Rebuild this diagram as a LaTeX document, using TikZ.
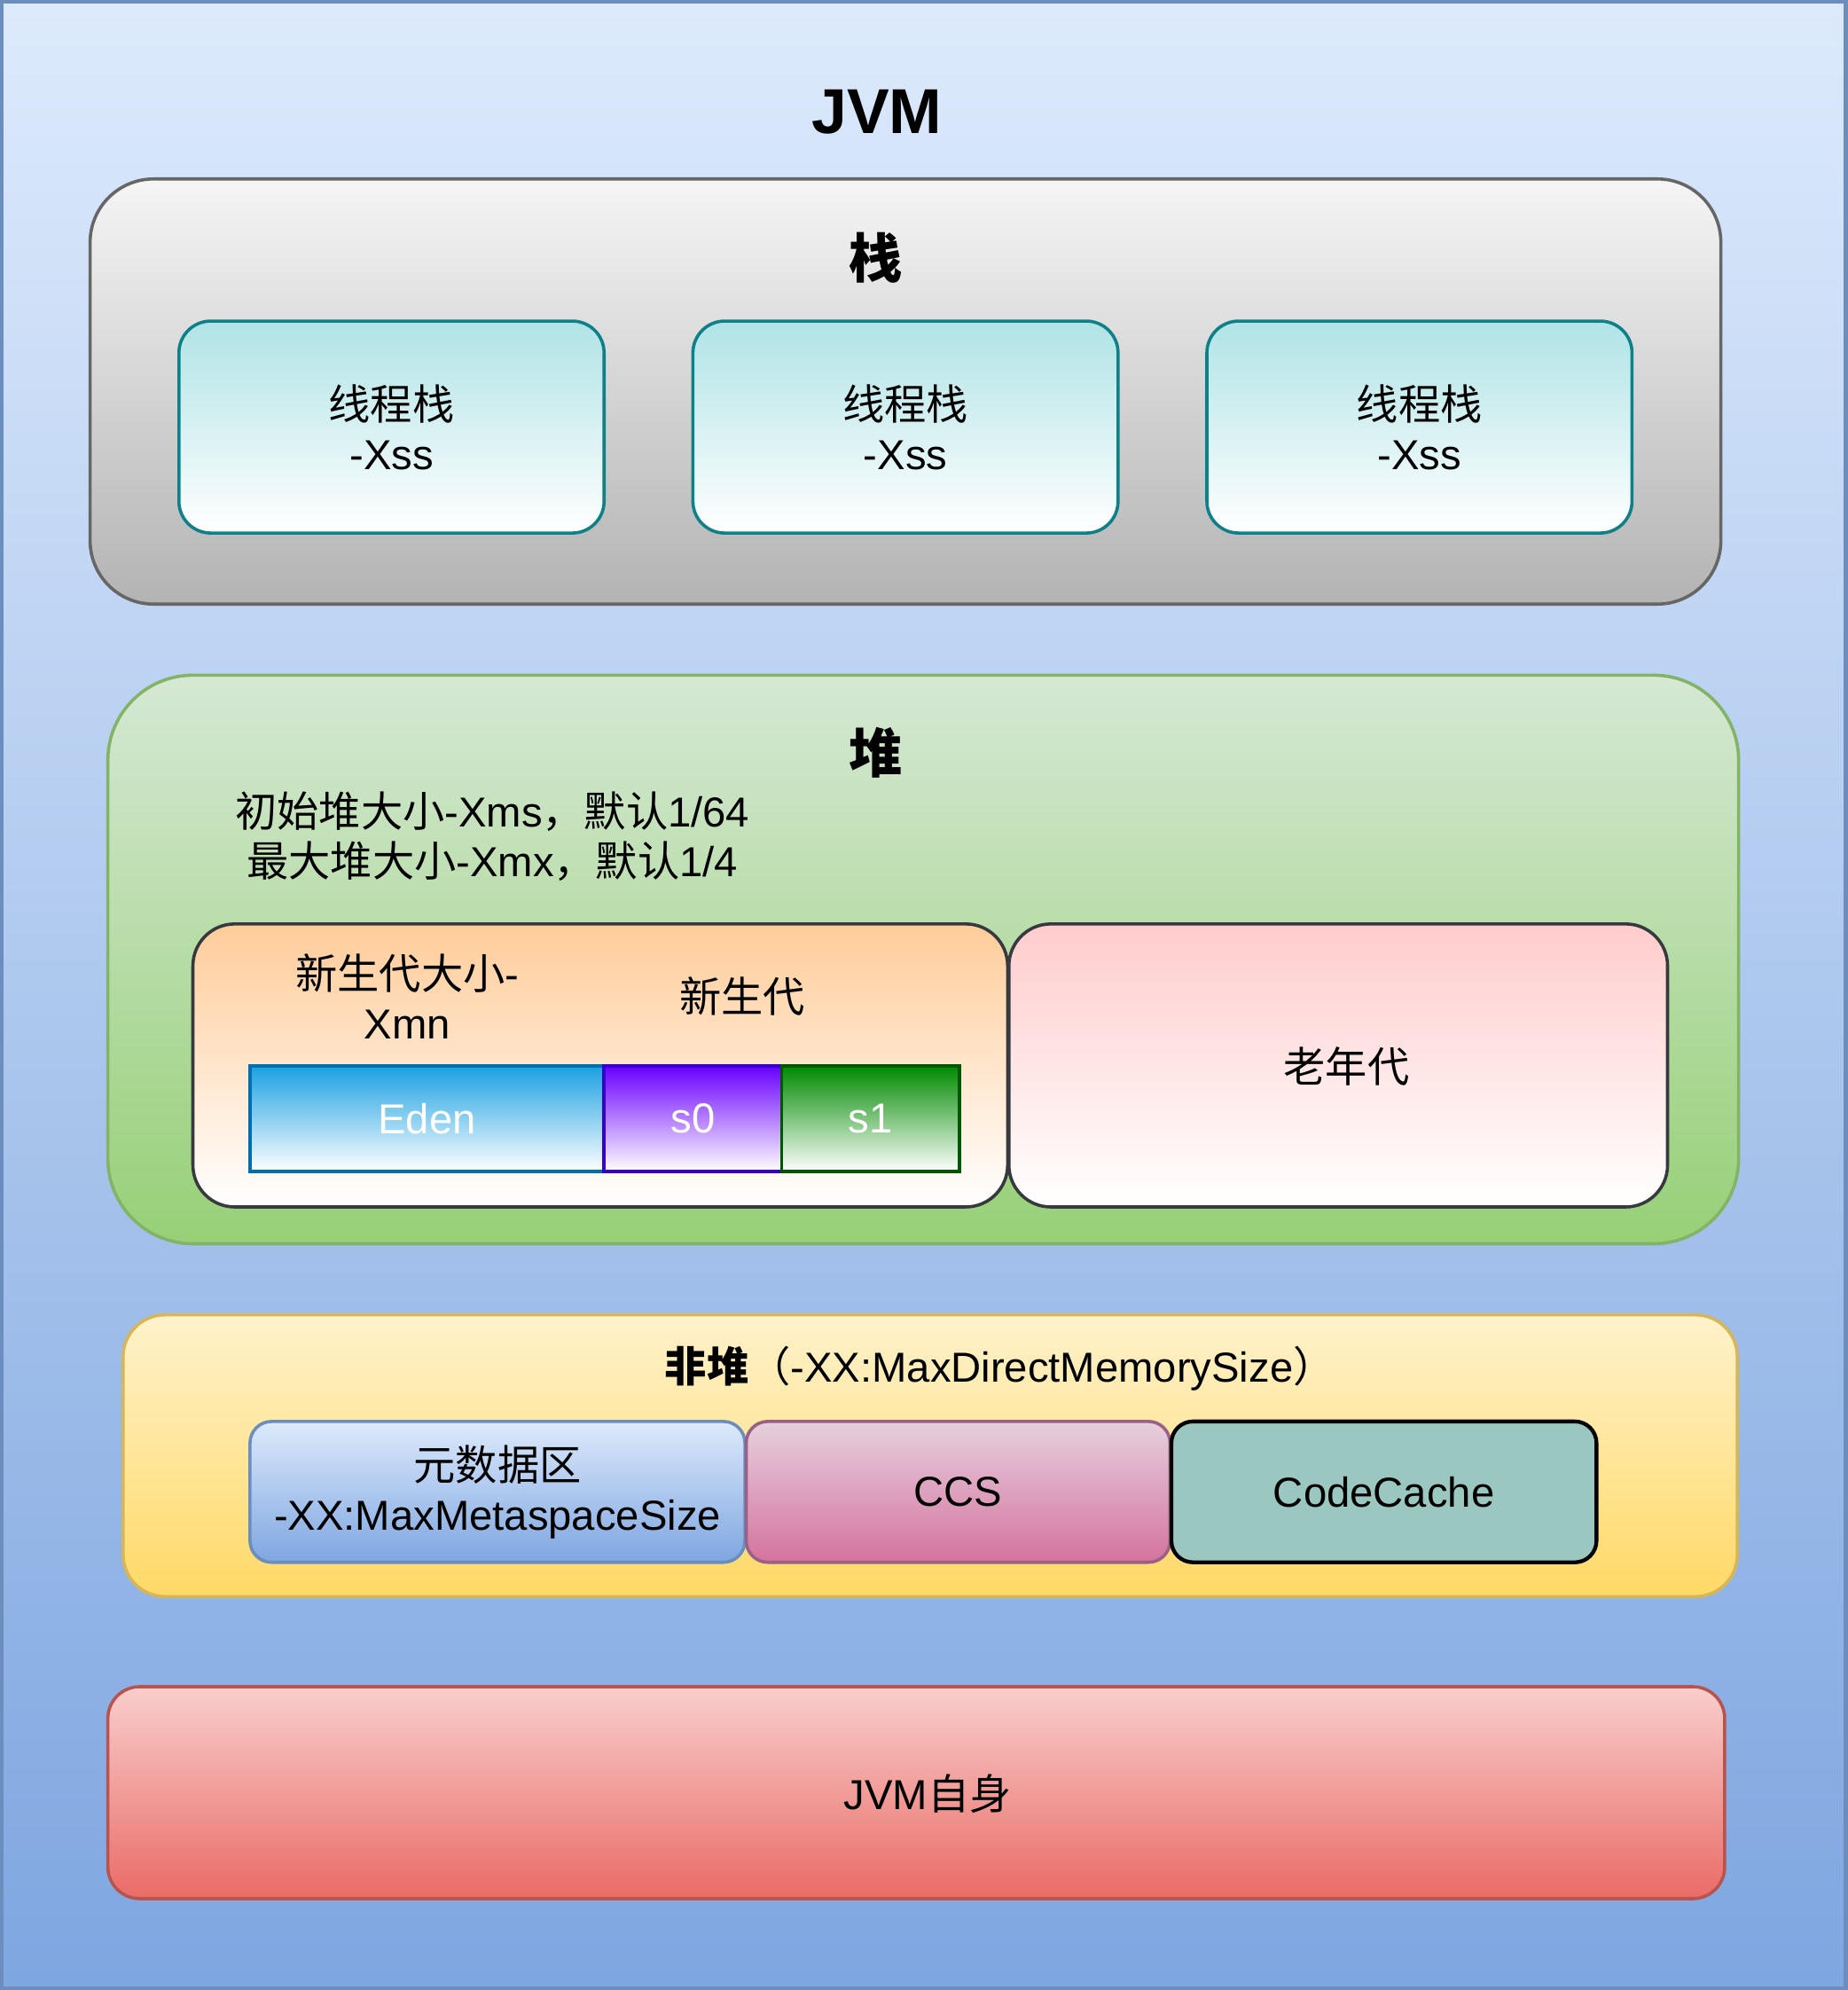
\documentclass[tikz,border=0pt]{standalone}
\usepackage{fontspec}
\setmainfont{Liberation Sans}
\newfontfamily\cjk{Noto Sans CJK SC}
\begin{document}
\begin{tikzpicture}[x=1pt,y=-1pt,
  base/.style={draw, align=center, inner sep=0pt, font=\fontsize{33}{39}\selectfont},
  lbl/.style={align=center, inner sep=0pt, font=\fontsize{33}{39}\selectfont},
  ttl/.style={align=center, inner sep=0pt, font=\fontsize{42}{48}\selectfont\bfseries},
]
\definecolor{bgT}{HTML}{DDEAFC}\definecolor{bgB}{HTML}{7EA6E0}\definecolor{bgD}{HTML}{6C8EBF}
\definecolor{stT}{HTML}{F5F5F5}\definecolor{stB}{HTML}{B3B3B3}\definecolor{stD}{HTML}{666666}
\definecolor{thT}{HTML}{B0E3E6}\definecolor{thD}{HTML}{0E8088}
\definecolor{hpT}{HTML}{D5E8D4}\definecolor{hpB}{HTML}{97D077}\definecolor{hpD}{HTML}{82B366}
\definecolor{ygT}{HTML}{FFCC99}\definecolor{grD}{HTML}{36393D}
\definecolor{odT}{HTML}{FFCCCC}
\definecolor{edT}{HTML}{1BA1E2}\definecolor{edD}{HTML}{006EAF}
\definecolor{s0T}{HTML}{6A00FF}\definecolor{s0D}{HTML}{3700CC}
\definecolor{s1T}{HTML}{008A00}\definecolor{s1D}{HTML}{005700}
\definecolor{nhT}{HTML}{FFF2CC}\definecolor{nhB}{HTML}{FFD966}\definecolor{nhD}{HTML}{D6B656}
\definecolor{ccT}{HTML}{E6D0DE}\definecolor{ccB}{HTML}{D5739D}\definecolor{ccD}{HTML}{996185}
\definecolor{cdF}{HTML}{9AC7BF}
\definecolor{jsT}{HTML}{F8CECC}\definecolor{jsB}{HTML}{EA6B66}\definecolor{jsD}{HTML}{B85450}

\useasboundingbox (0,0) rectangle (1456,1568);
\node[base, draw=bgD, line width=3pt, top color=bgT, bottom color=bgB, minimum width=1453pt, minimum height=1565pt] (bg) at (728,784) {};
\node[ttl, font=\fontsize{50}{56}\selectfont\bfseries] (title) at (691,88) {JVM};

% stack
\node[base, draw=stD, line width=2.5pt, rounded corners=50pt, top color=stT, bottom color=stB, minimum width=1285pt, minimum height=335pt] (stack) at (713.5,308.5) {};
\node[ttl] (stacktitle) at (690,203) {\cjk\bfseries 栈};
\foreach \i/\x in {1/308.5,2/713.5,3/1118.5}{
  \node[base, draw=thD, line width=2.5pt, rounded corners=25pt, top color=thT, bottom color=white, minimum width=335pt, minimum height=167pt] (thread\i) at (\x,336.5) {{\cjk 线程栈}\\-Xss};
}

% heap
\node[base, draw=hpD, line width=2.5pt, rounded corners=67pt, top color=hpT, bottom color=hpB, minimum width=1285pt, minimum height=448pt] (heap) at (727.5,756) {};
\node[ttl] (heaptitle) at (690,593) {\cjk\bfseries 堆};
\node[lbl] (heaptext) at (388,659) {{\cjk 初始堆大小}-Xms{\cjk ，默认}1/64\\{\cjk 最大堆大小}-Xmx{\cjk ，默认}1/4};
\node[base, draw=grD, line width=2.5pt, rounded corners=33pt, top color=ygT, bottom color=white, minimum width=642pt, minimum height=223pt] (young) at (473,839.5) {};
\node[lbl] (xmn) at (321,785) {{\cjk 新生代大小}-\\Xmn};
\node[lbl] (youngtitle) at (585,785) {\cjk 新生代};
\node[base, draw=edD, line width=2.5pt, top color=edT, bottom color=white, text=white, minimum width=279pt, minimum height=83pt] (eden) at (336.5,881.5) {Eden};
\node[base, draw=s0D, line width=2.5pt, top color=s0T, bottom color=white, text=white, minimum width=140pt, minimum height=83pt] (s0) at (546,881.5) {s0};
\node[base, draw=s1D, line width=2.5pt, top color=s1T, bottom color=white, text=white, minimum width=140pt, minimum height=83pt] (s1) at (686,881.5) {s1};
\node[base, draw=grD, line width=2.5pt, rounded corners=33pt, top color=odT, bottom color=white, minimum width=519pt, minimum height=223pt] (old) at (1054.5,839.5) {};
\node[lbl] (oldtext) at (1061,840) {\cjk 老年代};

% non-heap
\node[base, draw=nhD, line width=2.5pt, rounded corners=33pt, top color=nhT, bottom color=nhB, minimum width=1272pt, minimum height=222pt] (nonheap) at (733,1147) {};
\node[lbl] (nonheaptitle) at (788,1078) {{\cjk\bfseries 非堆}{\cjk （}-XX:MaxDirectMemorySize{\cjk ）}};
\node[base, draw=bgD, line width=2.5pt, rounded corners=17pt, top color=bgT, bottom color=bgB, minimum width=390pt, minimum height=111pt] (meta) at (392,1175.5) {{\cjk 元数据区}\\-XX:MaxMetaspaceSize};
\node[base, draw=ccD, line width=2.5pt, rounded corners=17pt, top color=ccT, bottom color=ccB, minimum width=334pt, minimum height=111pt] (ccs) at (755,1175.5) {CCS};
\node[base, draw=black, line width=3pt, rounded corners=17pt, fill=cdF, minimum width=335pt, minimum height=111pt] (codecache) at (1090.5,1175.5) {CodeCache};

% JVM itself
\node[base, draw=jsD, line width=2.5pt, rounded corners=25pt, top color=jsT, bottom color=jsB, minimum width=1274pt, minimum height=167pt] (jvmself) at (722,1412.5) {};
\node[lbl] (jvmselftext) at (731,1413) {JVM{\cjk 自身}};
\end{tikzpicture}
\end{document}
